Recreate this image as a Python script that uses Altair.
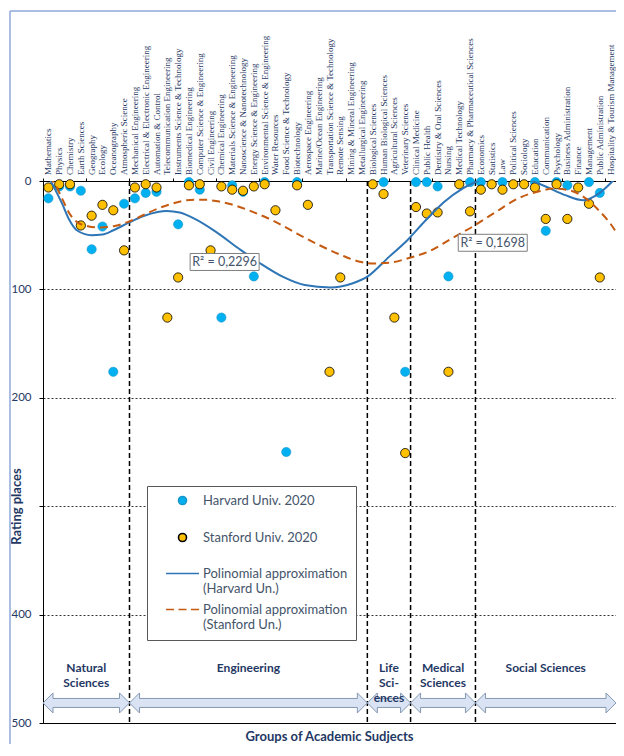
import altair as alt
import pandas as pd

subjects = [
    "Mathematics", "Physics", "Chemistry", "Earth Sciences", "Geography", "Ecology",
    "Oceanography", "Atmospheric Science",
    "Mechanical Engineering", "Electrical & Electronic Engineering", "Automation & Control",
    "Telecommunication Engineering", "Instruments Science & Technology", "Biomedical Engineering",
    "Computer Science & Engineering", "Civil Engineering", "Chemical Engineering",
    "Materials Science & Engineering", "Nanoscience & Nanotechnology", "Energy Science & Engineering",
    "Environmental Science & Engineering", "Water Resources", "Food Science & Technology",
    "Biotechnology", "Aerospace Engineering", "Marine/Ocean Engineering",
    "Transportation Science & Technology", "Remote Sensing", "Mining & Mineral Engineering",
    "Metallurgical Engineering",
    "Biological Sciences", "Human Biological Sciences", "Agricultural Sciences", "Veterinary Sciences",
    "Clinical Medicine", "Public Health", "Dentistry & Oral Sciences", "Nursing",
    "Medical Technology", "Pharmacy & Pharmaceutical Sciences",
    "Economics", "Statistics", "Law", "Political Sciences", "Sociology", "Education",
    "Communication", "Psychology", "Business Administration", "Finance", "Management",
    "Public Administration", "Hospitality & Tourism Management",
]

N = None
harvard = [16, 5, 5, 9, 63, 42, 176, 21,
           16, 11, 10, N, 40, 1, 8, N, 126, 4, 10, 88, 1, N, 250, 1, N, N, N, N, N, N,
           N, 1, N, 176,
           1, 1, 5, 88, N, 1,
           1, N, 1, N, N, 1, 46, 1, 4, N, 1, 11, N]
stanford = [6, 3, 3, 41, 32, 22, 27, 64,
            6, 3, 6, 126, 89, 4, 3, 64, 5, 8, 9, 5, 3, 27, N, 4, 22, N, 176, 89, N, N,
            3, 12, 126, 251,
            24, 30, 29, 176, 3, 28,
            8, 3, 8, 3, 3, 6, 35, 3, 35, 6, 21, 89, N]

# polynomial trend curves (position on the subject axis, rating place)
harv_fit_x = [0, 0.58, 1.27, 1.95, 2.63, 3.98, 5.0, 6.02, 7.38, 8.74, 10.1, 10.95, 12.14, 13.5,
              15.5, 17.6, 19.6, 21.66, 23.7, 26.08, 28.1, 29.5, 31.5, 33.2, 34.9, 36.6, 38.3,
              39.7, 41.0, 42.3, 43.6, 44.8, 46.1, 47.8, 49.5, 50.9, 52.2, 52.5]
harv_fit_y = [-4, 7, 20.9, 36.2, 45.4, 50.0, 49.4, 45.4, 38.7, 32.5, 28.5, 27.6, 29.1, 34.7,
              46.9, 62.3, 76.1, 88.3, 96.0, 98.2, 94.5, 88.3, 70.0, 54.6, 36.2, 19.3, 7.0,
              0, -5, -7, -5, 0, 5.5, 13.0, 17.8, 11.7, 0, -3]
stan_fit_x = [0, 0.58, 1.27, 1.95, 2.63, 3.65, 4.66, 6.02, 7.38, 8.74, 10.1, 11.46, 12.8, 14.2,
              15.5, 16.9, 18.9, 21.0, 23.0, 25.06, 27.1, 28.8, 30.2, 31.5, 33.2, 35.3, 37.3,
              39.3, 41.4, 43.4, 45.5, 46.8, 48.2, 49.5, 50.9, 52.4, 52.5]
stan_fit_y = [-4, 2.5, 16.3, 30.0, 37.7, 41.7, 42.9, 41.7, 37.7, 31.6, 25.5, 20.9, 17.8, 17.2,
              18.4, 21.5, 28.5, 37.7, 48.5, 59.2, 68.4, 74.5, 76.1, 75.5, 71.5, 64.4, 53.0,
              41.7, 28.5, 16.3, 9.2, 7.0, 8.6, 14.7, 27.0, 45.4, 47]

group_labels = ["Natural\nSciences", "Engineering", "Life\nSci-\nences", "Medical\nSciences", "Social Sciences"]
group_start = [-0.5, 7.5, 29.5, 33.5, 39.5]
group_end = [7.5, 29.5, 33.5, 39.5, 52.5]

r2_text = ["R² = 0,2296", "R² = 0,1698"]
r2_x = [16.3, 41.1]
r2_y = [74.7, 57.0]

x_title = "Groups of Academic Sudjects"

series = ["Harvard Univ. 2020| ", "Stanford Univ. 2020| ",
          "Polinomial approximation|(Harvard Un.)", "Polinomial approximation|(Stanford Un.)"]

NAVY = "#1F3864"
SLATE = "#44546A"
BLUE_PT = "#00B0F0"
ORANGE_PT = "#FFC000"
BLUE_LN = "#2E75B6"
ORANGE_LN = "#C55A11"
FRAME = "#8FAADC"
FONT = "Lato"

# ---------------- data tables ----------------
rows = []
for i, s in enumerate(subjects):
    if harvard[i] is not None:
        rows.append({"idx": i, "subject": s, "series": "H", "rank": harvard[i]})
    if stanford[i] is not None:
        rows.append({"idx": i, "subject": s, "series": "S", "rank": stanford[i]})
pts = pd.DataFrame(rows)
subj_df = pd.DataFrame({"idx": list(range(len(subjects))), "subject": subjects})
hfit = pd.DataFrame({"idx": harv_fit_x, "rank": harv_fit_y})
sfit = pd.DataFrame({"idx": stan_fit_x, "rank": stan_fit_y})

groups_df = pd.DataFrame({"label": group_labels, "start": group_start, "end": group_end})
groups_df["center"] = (groups_df["start"] + groups_df["end"]) / 2
bounds_df = pd.DataFrame({"b": group_end[:-1]})
r2_df = pd.DataFrame({"x": r2_x, "y": r2_y, "text": r2_text})
legend_df = pd.DataFrame({"series": series})
frame_df = pd.DataFrame({"k": [0]})
title_df = pd.DataFrame({"t": [x_title], "center": [(group_start[0] + group_end[-1]) / 2]})

# ---------------- scales / axes ----------------
x_axis = alt.Axis(
    orient="top", title=None,
    values=[i + 0.5 for i in range(-1, 53)],
    labels=False, tickSize=3, tickColor="black",
    domainColor="black", domainWidth=1, grid=False,
)
x_scale = alt.Scale(domain=[-0.5, 52.5], nice=False, zero=False)
y_axis = alt.Axis(
    values=[0, 100, 200, 300, 400, 500],
    labelExpr="datum.value == 300 ? '' : datum.label",
    labelFont=FONT, labelFontSize=11.5, labelColor=NAVY, labelPadding=8,
    tickSize=4, tickColor="black", domainColor="black",
    grid=True, gridDash=[2, 2], gridColor="black", gridWidth=0.8,
    title="Rating places", titleFont=FONT, titleFontSize=13, titleColor=NAVY,
    titleFontWeight="bold", titleX=-20, titleY=325,
)
y_scale = alt.Scale(domain=[0, 500], reverse=True, nice=False, zero=False)


def X(field):
    return alt.X(field, type="quantitative", scale=x_scale, axis=x_axis)


def Y(field):
    return alt.Y(field, type="quantitative", scale=y_scale, axis=y_axis)


# ---------------- layers ----------------
# light outer chart-area frame (top and left edges)
frame_top = alt.Chart(frame_df).mark_rule(color=FRAME, strokeWidth=1.5).encode(
    x=alt.value(-33), x2=alt.value(600), y=alt.value(-170)
)
frame_left = alt.Chart(frame_df).mark_rule(color=FRAME, strokeWidth=1.5).encode(
    x=alt.value(-33), y=alt.value(-170), y2=alt.value(563)
)

subj_labels = alt.Chart(subj_df).mark_text(
    font="Liberation Serif", fontSize=9, color=NAVY, angle=270, align="left", baseline="middle"
).encode(x=X("idx"), y=alt.value(-6), text="subject:N")

bottom_title = alt.Chart(title_df).mark_text(
    font=FONT, fontSize=13, fontWeight="bold", color=NAVY, align="center", baseline="middle"
).encode(x=X("center"), y=alt.value(556), text="t:N")

bounds = alt.Chart(bounds_df).mark_rule(color="black", strokeDash=[5, 3], strokeWidth=1.5).encode(
    x=X("b")
)

arrow_body = alt.Chart(groups_df).mark_rect(
    fill="#DAE3F3", stroke="#8497B0", strokeWidth=1, xOffset=8, x2Offset=-8
).encode(x=X("start"), x2="end", y=alt.datum(477.35), y2=alt.datum(485.65))

path_l = "M1,-0.45L1,-1L0,0L1,1L1,0.45"
path_r = "M-1,-0.45L-1,-1L0,0L-1,1L-1,0.45"
head_style = dict(filled=True, fill="#DAE3F3", stroke="#8497B0", strokeWidth=1, size=400, opacity=1)
heads_l = alt.Chart(groups_df).mark_point(shape=path_l, **head_style).encode(x=X("start"), y=alt.datum(481.5))
heads_r = alt.Chart(groups_df).mark_point(shape=path_r, **head_style).encode(x=X("end"), y=alt.datum(481.5))

group_text = alt.Chart(groups_df).mark_text(
    font=FONT, fontSize=12, fontWeight="bold", color=NAVY, lineBreak="\n", lineHeight=15,
    align="center", baseline="middle"
).encode(x=X("center"), y=alt.datum(449), text="label:N")

harv_pts = alt.Chart(pts).transform_filter(alt.datum.series == "H").mark_point(
    filled=True, fill=BLUE_PT, stroke="#1696C8", strokeWidth=0.6, size=85, opacity=1
).encode(x=X("idx"), y=Y("rank"))

stan_pts = alt.Chart(pts).transform_filter(alt.datum.series == "S").mark_point(
    filled=True, fill=ORANGE_PT, stroke="black", strokeWidth=0.8, size=85, opacity=1
).encode(x=X("idx"), y=Y("rank"))

harv_fit = alt.Chart(hfit).mark_line(
    color=BLUE_LN, strokeWidth=2, clip=True, interpolate="monotone"
).encode(x=X("idx"), y=Y("rank"))

stan_fit = alt.Chart(sfit).mark_line(
    color=ORANGE_LN, strokeWidth=2, strokeDash=[8, 5], clip=True, interpolate="monotone"
).encode(x=X("idx"), y=Y("rank"))

rect_path = "M-1,-0.246H1V0.246H-1Z"
r2_box = alt.Chart(r2_df).mark_point(
    shape=rect_path, size=4761, filled=True, fill="white", stroke="#7F7F7F", strokeWidth=1, opacity=1
).encode(x=X("x"), y=Y("y"))
r2_lbl = alt.Chart(r2_df).mark_text(font=FONT, fontSize=12.5, color=SLATE).encode(
    x=X("x"), y=Y("y"), text="text:N"
)

# legend symbols: symbol box is 10px; line symbols reach 33px wide around it
circle_path = "M-0.8,0A0.8,0.8 0 1,0 0.8,0A0.8,0.8 0 1,0 -0.8,0Z"
line_path = "M-3.3,0H3.3"
dash_path = "M-3.3,0H-1.7M-0.8,0H0.8M1.7,0H3.3"
leg = alt.Legend(
    title=None, orient="none", legendX=104, legendY=305,
    labelExpr="split(datum.label, '|')",
    labelFont=FONT, labelFontSize=13, labelColor=SLATE, labelLimit=400,
    symbolOffset=21, labelOffset=14,
    rowPadding=7, padding=8, fillColor="white", strokeColor="#595959",
    symbolOpacity=1, symbolSize=100, symbolStrokeWidth=1.6,
)
legend_layer = alt.Chart(legend_df).mark_point(filled=True, clip=True, opacity=1).encode(
    x=alt.datum(-20), y=alt.datum(-200),
    color=alt.Color("series:N", scale=alt.Scale(domain=series, range=[BLUE_PT, ORANGE_PT, "transparent", "transparent"]), legend=leg),
    stroke=alt.Stroke("series:N", scale=alt.Scale(domain=series, range=["#1696C8", "black", BLUE_LN, ORANGE_LN]), legend=leg),
    shape=alt.Shape("series:N", scale=alt.Scale(domain=series, range=[circle_path, circle_path, line_path, dash_path]), legend=leg),
)

chart = alt.layer(
    frame_top, frame_left,
    subj_labels, bottom_title, bounds, arrow_body, heads_l, heads_r, group_text, harv_pts, stan_pts,
    harv_fit, stan_fit, r2_box, r2_lbl, legend_layer,
).properties(
    width=573, height=542,
    autosize=alt.AutoSizeParams(type="none"),
    padding={"left": 35, "top": 173, "right": 0, "bottom": 21},
).configure_view(stroke="black", strokeWidth=1)

chart.save("out.html", embed_options={"renderer": "svg", "actions": False})
